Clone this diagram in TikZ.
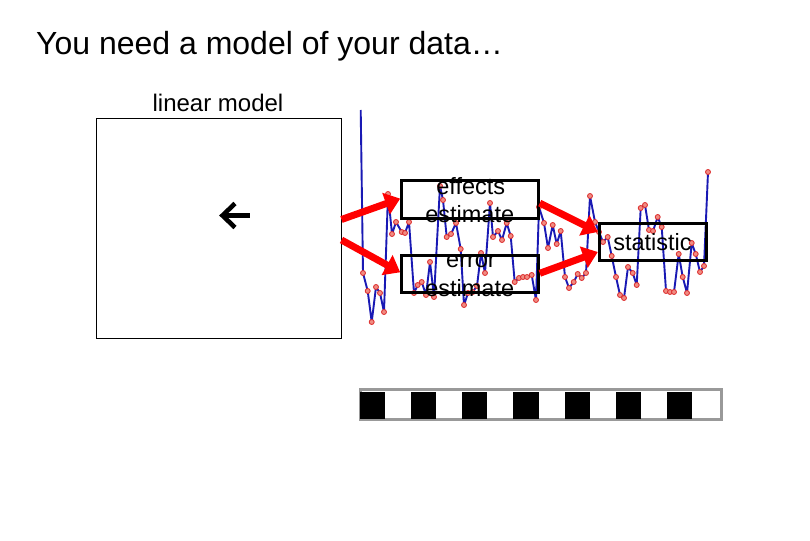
\documentclass[tikz,border=0pt]{standalone}
\usepackage{fontspec}
\setmainfont{Liberation Sans}
\usetikzlibrary{arrows.meta,calc}
\begin{document}
\begin{tikzpicture}[x=1pt,y=-1pt,
  thinbox/.style={draw=black,line width=1pt,inner sep=0pt},
  thickbox/.style={draw=black,line width=3pt,inner sep=0pt},
  boxtext/.style={font=\fontsize{23.5}{28}\selectfont,anchor=base,inner sep=0pt},
  redarrow/.style={draw=red,line width=7pt,-{Triangle[length=15pt,width=22pt]},shorten >=0pt},
  series/.style={draw={rgb,255:red,25;green,25;blue,180},line width=1.9pt,line join=round},
  dot/.style={circle,draw={rgb,255:red,220;green,40;blue,40},fill={rgb,255:red,240;green,140;blue,130},line width=0.8pt,minimum size=5pt,inner sep=0pt}
]
\useasboundingbox (0,0) rectangle (810,540);
\fill[white] (0,0) rectangle (810,540);

% title
\node[anchor=base west,font=\fontsize{32}{38}\selectfont,inner sep=0pt] (title) at (36,55) {You need a model of your data…};

% linear model box
\node[font=\fontsize{24}{28}\selectfont,anchor=base,inner sep=0pt] (lmlabel) at (218,111.5) {linear model};
\node[thinbox,minimum width=245pt,minimum height=219pt] (lm) at (218.5,228.5) {};

% bold left arrow glyph
\draw[line width=4.6pt,line cap=butt,line join=miter] (235,203.5) -- (222.5,215.5) -- (235,227.5);
\draw[line width=4.6pt,line cap=butt] (224,215.5) -- (250,215.5);

% time series
\draw[series] (360.7,110) -- (363,273) -- (367.7,291) -- (371.7,322) -- (376,287) -- (380,293) -- (384,312) -- (388,194) -- (392,234) -- (396,222) -- (401.7,232) -- (405,233) -- (409,222) -- (414,293) -- (417.7,285) -- (421.7,282) -- (426,295) -- (430,262) -- (434,297) -- (440,186) -- (443,200) -- (446.7,237) -- (451,234) -- (456,223) -- (460.7,249) -- (464,305) -- (468,293) -- (472.7,292) -- (477,286) -- (481,253) -- (485,273) -- (490,203) -- (493,237) -- (498,231) -- (502,240) -- (506.7,223) -- (510.7,236) -- (514.7,282) -- (519,278) -- (523,277) -- (527,277) -- (531.7,275) -- (536,300) -- (539,207) -- (544,223) -- (548,248) -- (552.7,225) -- (556.7,244) -- (560.7,231) -- (565,277) -- (569,288) -- (573.7,282) -- (577.7,274) -- (581.7,278) -- (586,273) -- (590,196) -- (595,222) -- (599,232) -- (603,242) -- (607.7,237) -- (611.7,256) -- (616,277) -- (620,295) -- (624,298) -- (628,267) -- (632.7,273) -- (636.7,285) -- (640.7,208) -- (645,205) -- (649,230) -- (653,231) -- (657.7,217) -- (661.7,227) -- (666,291) -- (670,292) -- (674,292) -- (678.7,254) -- (682.7,277) -- (687,293) -- (691.7,243) -- (695.7,254) -- (700,272) -- (704,266) -- (708,172);
\foreach \p in {(363,273),(367.7,291),(371.7,322),(376,287),(380,293),(384,312),(388,194),(392,234),(396,222),(401.7,232),(405,233),(409,222),(414,293),(417.7,285),(421.7,282),(426,295),(430,262),(434,297),(440,186),(443,200),(446.7,237),(451,234),(456,223),(460.7,249),(464,305),(468,293),(472.7,292),(477,286),(481,253),(485,273),(490,203),(493,237),(498,231),(502,240),(506.7,223),(510.7,236),(514.7,282),(519,278),(523,277),(527,277),(531.7,275),(536,300),(539,207),(544,223),(548,248),(552.7,225),(556.7,244),(560.7,231),(565,277),(569,288),(573.7,282),(577.7,274),(581.7,278),(586,273),(590,196),(595,222),(599,232),(603,242),(607.7,237),(611.7,256),(616,277),(620,295),(624,298),(628,267),(632.7,273),(636.7,285),(640.7,208),(645,205),(649,230),(653,231),(657.7,217),(661.7,227),(666,291),(670,292),(674,292),(678.7,254),(682.7,277),(687,293),(691.7,243),(695.7,254),(700,272),(704,266),(708,172)}
  \node[dot] at \p {};

% boxes
\node[thickbox,minimum width=136.6pt,minimum height=37.3pt] (eff) at (470,199.6) {};
\node[boxtext] (efft1) at (470.8,194.5) {effects};
\node[boxtext] (efft2) at (469.7,222.7) {estimate};
\node[thickbox,minimum width=136.6pt,minimum height=36.7pt] (err) at (470,274.3) {};
\node[boxtext] (errt1) at (471,267.8) {error};
\node[boxtext] (errt2) at (469.7,296.5) {estimate};
\node[thickbox,minimum width=107.4pt,minimum height=37.4pt] (stat) at (653,242) {};
\node[boxtext] (statt) at (652.5,250) {statistic};

% red arrows
\draw[redarrow] ([yshift=9pt]lm.east) -- ([yshift=1pt]eff.west);
\draw[redarrow] ([yshift=-11.5pt]lm.east) -- ([yshift=2pt]err.west);
\draw[redarrow] ([yshift=-3.5pt]eff.east) -- ([yshift=10pt]stat.west);
\draw[redarrow] ([yshift=1pt]err.east) -- ([yshift=-10pt]stat.west);

% checkerboard strip
\node[draw=black!40,line width=3pt,minimum width=361pt,minimum height=30pt,inner sep=0pt] (strip) at (540.5,404) {};
\foreach \i in {0,2,...,12}
  \fill[black] ($(strip.south west)+(1.5+\i*25.57,-1.5)$) rectangle ++(25.2,-27);
\end{tikzpicture}
\end{document}
